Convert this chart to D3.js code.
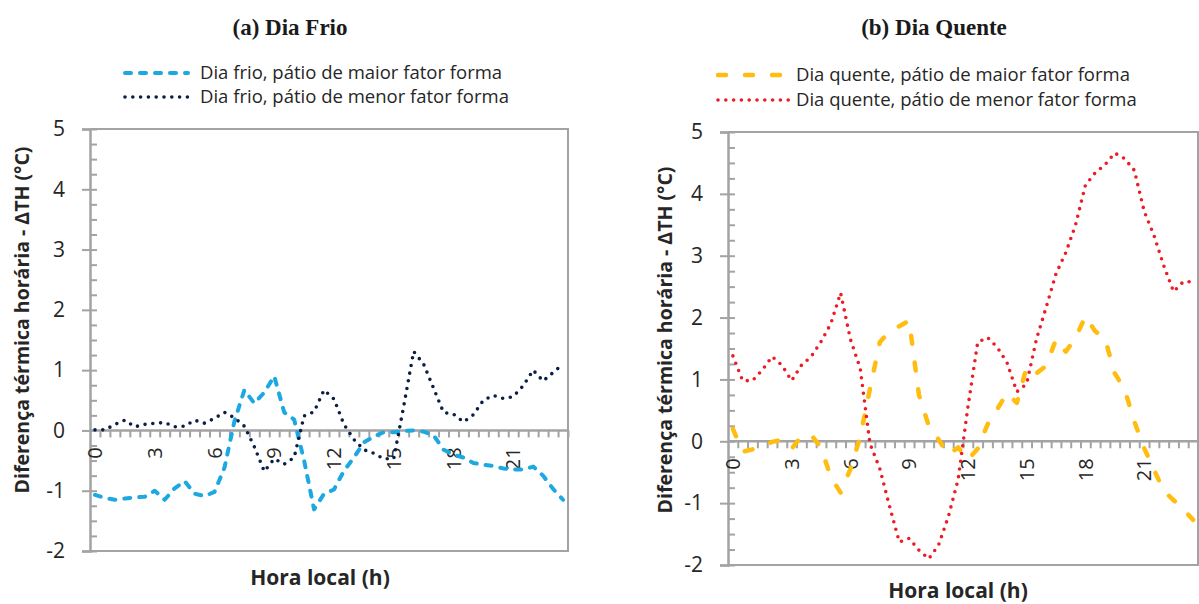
<!DOCTYPE html>
<html>
<head>
<meta charset="utf-8">
<script src="https://cdn.jsdelivr.net/npm/d3@7"></script>
<style>
  body { margin: 0; background: #fff; }
  svg { display: block; }
</style>
</head>
<body>
<svg id="chart"></svg>
<script>
// half-hour categories, 0 .. 23.5
const hours = [0, 0.5, 1, 1.5, 2, 2.5, 3, 3.5, 4, 4.5, 5, 5.5, 6, 6.5, 7, 7.5,
  8, 8.5, 9, 9.5, 10, 10.5, 11, 11.5, 12, 12.5, 13, 13.5, 14, 14.5, 15, 15.5,
  16, 16.5, 17, 17.5, 18, 18.5, 19, 19.5, 20, 20.5, 21, 21.5, 22, 22.5, 23, 23.5];
const hourLabels = ['0', '3', '6', '9', '12', '15', '18', '21'];
const yTicks = [-2, -1, 0, 1, 2, 3, 4, 5];

// (a) Dia Frio
const frioMaior = [-1.07, -1.12, -1.15, -1.13, -1.11, -1.1, -1.0, -1.15, -0.96, -0.84, -1.05, -1.09,
  -1.02, -0.62, 0.15, 0.67, 0.45, 0.63, 0.9, 0.3, 0.18, -0.5, -1.31, -1.05,
  -0.98, -0.67, -0.45, -0.2, -0.1, -0.03, -0.03, -0.01, 0, -0.02, -0.08, -0.32,
  -0.4, -0.45, -0.54, -0.57, -0.59, -0.63, -0.65, -0.65, -0.6, -0.75, -0.97, -1.15];
const frioMenor = [0.01, 0.01, 0.1, 0.17, 0.06, 0.1, 0.12, 0.13, 0.06, 0.07, 0.17, 0.12,
  0.2, 0.3, 0.21, 0.07, -0.27, -0.68, -0.47, -0.56, -0.45, 0.24, 0.31, 0.67,
  0.52, 0.1, -0.15, -0.32, -0.38, -0.47, -0.47, 0.4, 1.31, 1.1, 0.7, 0.3,
  0.27, 0.14, 0.26, 0.5, 0.58, 0.53, 0.56, 0.74, 1.0, 0.82, 0.96, 1.1];

// (b) Dia Quente
const quenteMaior = [0.2, -0.17, -0.13, -0.08, -0.01, 0.02, -0.12, 0.08, 0.1, -0.1, -0.58, -0.83,
  -0.45, 0.07, 0.85, 1.6, 1.78, 1.86, 1.95, 0.75, 0.25, 0.03, -0.22, -0.1,
  -0.3, -0.12, 0.27, 0.52, 0.78, 0.62, 1.2, 1.1, 1.22, 1.65, 1.45, 1.67,
  2.02, 1.78, 1.66, 1.1, 0.84, 0.32, -0.11, -0.46, -0.8, -0.95, -1.1, -1.27];
const quenteMenor = [1.38, 0.98, 0.98, 1.15, 1.37, 1.23, 0.98, 1.23, 1.37, 1.61, 1.9, 2.4,
  1.65, 1.18, -0.04, -0.44, -1.05, -1.63, -1.57, -1.76, -1.9, -1.68, -1.22, -0.62,
  0.55, 1.6, 1.68, 1.52, 1.27, 0.8, 0.93, 1.65, 2.17, 2.71, 3.05, 3.5,
  4.14, 4.34, 4.47, 4.66, 4.57, 4.38, 3.72, 3.33, 2.84, 2.42, 2.58, 2.58];

const width = 1199;
const height = 604;
const axisColor = '#a3a3a3';
const textColor = '#262626';
const sansFont = "'Open Sans', 'Noto Sans', sans-serif";

const panels = [
  {
    title: '(a) Dia Frio', titleX: 290,
    left: 90, right: 568, top: 129, bottom: 551,
    yLabelX: 22, yLabelY: 320, xTitleX: 320, xTitleY: 585,
    legendX: 125, legendLen: 63, legendTextX: 200, legendY: 73, legendGap: 24,
    series: [
      { name: 'Dia frio, pátio de maior fator forma', values: frioMaior, color: '#1ca8e0', dash: '6,9', width: 4 },
      { name: 'Dia frio, pátio de menor fator forma', values: frioMenor, color: '#0b1f45', dash: '0,7.8', width: 3.6 },
    ],
  },
  {
    title: '(b) Dia Quente', titleX: 934,
    left: 728, right: 1198, top: 132, bottom: 565,
    yLabelX: 665, yLabelY: 340, xTitleX: 958, xTitleY: 598,
    legendX: 718, legendLen: 72, legendTextX: 796, legendY: 75, legendGap: 25,
    series: [
      { name: 'Dia quente, pátio de maior fator forma', values: quenteMaior, color: '#ffbd10', dash: '8,19', width: 4.5 },
      { name: 'Dia quente, pátio de menor fator forma', values: quenteMenor, color: '#ed1c24', dash: '0,7.8', width: 3.6 },
    ],
  },
];

const svg = d3.select('#chart').attr('width', width).attr('height', height);

panels.forEach((p) => {
  const g = svg.append('g');

  const x = d3.scaleBand().domain(hours).range([p.left, p.right]).paddingInner(0).paddingOuter(0);
  const xEdge = d3.scaleLinear().domain([0, hours.length]).range([p.left, p.right]);
  const y = d3.scaleLinear().domain([-2, 5]).range([p.bottom, p.top]);
  const cx = (i) => x(hours[i]) + x.bandwidth() / 2;

  // title
  g.append('text')
    .attr('x', p.titleX).attr('y', 35)
    .attr('text-anchor', 'middle')
    .attr('font-family', "'Liberation Serif', 'Times New Roman', serif")
    .attr('font-weight', 'bold').attr('font-size', 23)
    .attr('fill', '#1a1a1a')
    .text(p.title);

  // legend
  p.series.forEach((s, k) => {
    const ly = p.legendY + k * p.legendGap;
    g.append('line')
      .attr('x1', p.legendX).attr('x2', p.legendX + p.legendLen)
      .attr('y1', ly).attr('y2', ly)
      .attr('stroke', s.color).attr('stroke-width', s.width)
      .attr('stroke-dasharray', s.dash).attr('stroke-linecap', 'round');
    g.append('text')
      .attr('x', p.legendTextX).attr('y', ly).attr('dy', '0.35em')
      .attr('font-family', sansFont).attr('font-size', 18.5)
      .attr('fill', textColor)
      .text(s.name);
  });

  // plot frame (top and right)
  g.append('path')
    .attr('d', `M${p.left},${p.top}H${p.right}V${p.bottom}H${p.left}`)
    .attr('fill', 'none').attr('stroke', axisColor).attr('stroke-width', 2);

  // y axis: major ticks with labels (outside), minor ticks inside
  const minor = d3.range(-2, 5.001, 0.25);
  g.append('g')
    .attr('transform', `translate(${p.left},0)`)
    .call(d3.axisLeft(y).tickValues(minor).tickSize(-7).tickFormat(''))
    .call((a) => a.select('.domain').remove())
    .call((a) => a.selectAll('line').attr('stroke', axisColor).attr('stroke-width', 2));

  g.append('g')
    .attr('transform', `translate(${p.left},0)`)
    .call(d3.axisLeft(y).tickValues(yTicks).tickSize(8).tickPadding(17).tickFormat((d) => String(d)))
    .call((a) => a.select('.domain').attr('stroke', axisColor).attr('stroke-width', 2.5))
    .call((a) => a.selectAll('line').attr('stroke', axisColor).attr('stroke-width', 2))
    .call((a) => a.selectAll('text')
      .attr('font-family', sansFont).attr('font-size', 21).attr('fill', textColor));

  // x axis at zero, ticks between categories
  const y0 = y(0);
  g.append('g')
    .attr('transform', `translate(0,${y0})`)
    .call(d3.axisBottom(xEdge).tickValues(d3.range(1, hours.length + 1)).tickSize(7).tickFormat(''))
    .call((a) => a.select('.domain').remove())
    .call((a) => a.selectAll('line').attr('stroke', axisColor).attr('stroke-width', 2));
  g.append('line')
    .attr('x1', p.left).attr('x2', p.right).attr('y1', y0).attr('y2', y0)
    .attr('stroke', axisColor).attr('stroke-width', 2.5);

  // rotated hour labels
  g.append('g')
    .attr('transform', `translate(0,${y0})`)
    .call(d3.axisBottom(x).tickValues(hourLabels.map(Number)).tickSize(0).tickFormat((d) => String(d)))
    .call((a) => a.select('.domain').remove())
    .call((a) => a.selectAll('text')
      .attr('x', 0).attr('y', 0).attr('dy', '0.36em')
      .attr('transform', 'translate(0,17) rotate(-90)')
      .attr('text-anchor', 'end')
      .attr('font-family', sansFont).attr('font-size', 20).attr('fill', textColor));

  // series
  const line = d3.line().x((d, i) => cx(i)).y((d) => y(d));
  p.series.forEach((s) => {
    g.append('path')
      .datum(s.values)
      .attr('d', line)
      .attr('fill', 'none')
      .attr('stroke', s.color).attr('stroke-width', s.width)
      .attr('stroke-dasharray', s.dash)
      .attr('stroke-linecap', 'round').attr('stroke-linejoin', 'round');
  });

  // axis titles
  g.append('text')
    .attr('transform', `translate(${p.yLabelX},${p.yLabelY}) rotate(-90)`)
    .attr('text-anchor', 'middle').attr('dy', '0.35em')
    .attr('font-family', sansFont).attr('font-weight', 'bold').attr('font-size', 19.5)
    .attr('fill', textColor)
    .text('Diferença térmica horária - ΔTH (°C)');

  g.append('text')
    .attr('x', p.xTitleX).attr('y', p.xTitleY)
    .attr('text-anchor', 'middle')
    .attr('font-family', sansFont).attr('font-weight', 'bold').attr('font-size', 21)
    .attr('fill', textColor)
    .text('Hora local (h)');
});
</script>
</body>
</html>
